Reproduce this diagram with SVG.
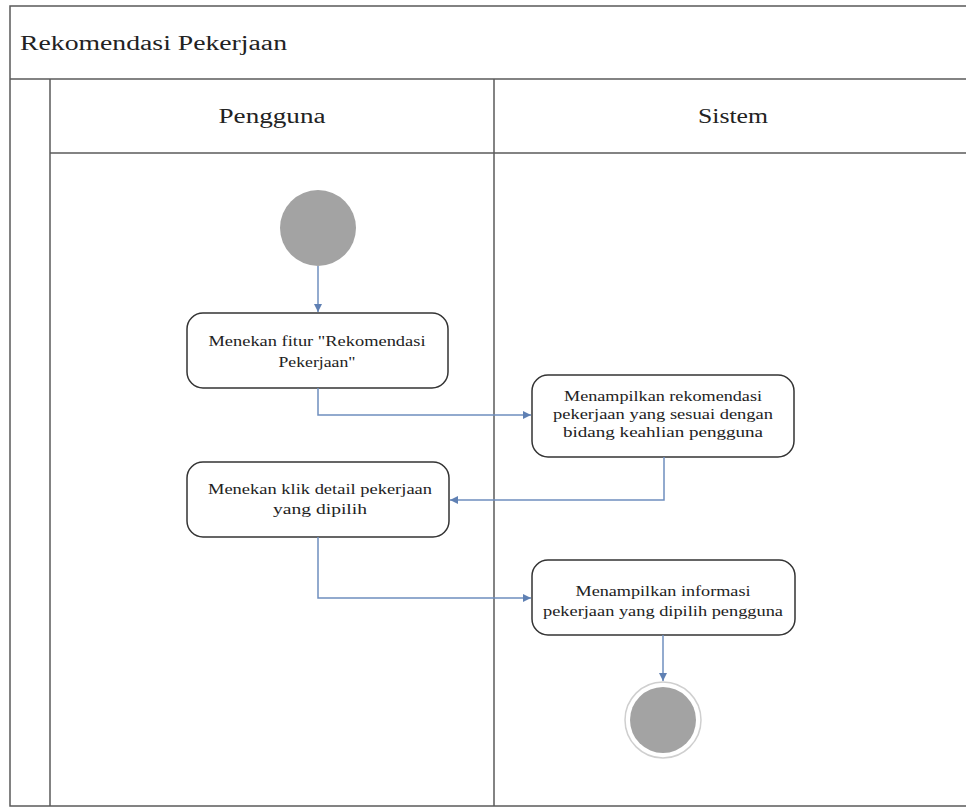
<svg xmlns="http://www.w3.org/2000/svg" width="966" height="807" viewBox="0 0 966 807">
<style>
.frame{fill:none;stroke:#5a5a5a;stroke-width:1.5}
.node rect{fill:#fff;stroke:#333;stroke-width:1.5}
.lbl{font-family:"Liberation Serif","DejaVu Serif","Times New Roman",serif;font-size:14px;fill:#222;text-anchor:middle}
.hdr{font-family:"Liberation Serif","DejaVu Serif","Times New Roman",serif;font-size:20px;fill:#222}
.conn path{fill:none;stroke:#6f8fbf;stroke-width:1.5}
</style>
<defs>
<marker id="arr" markerWidth="10" markerHeight="10" refX="9" refY="5" orient="auto" markerUnits="userSpaceOnUse">
<path d="M1,1 L9,5 L1,9 Z" fill="#5f80b3"/>
</marker>
</defs>
<rect x="0" y="0" width="966" height="807" fill="#fff"/>
<g id="swimlanes">
<rect x="10" y="6" width="970" height="800" class="frame"/>
<line x1="10" y1="79" x2="966" y2="79" class="frame"/>
<line x1="50" y1="79" x2="50" y2="806" class="frame"/>
<line x1="50" y1="153" x2="966" y2="153" class="frame"/>
<line x1="494" y1="79" x2="494" y2="806" class="frame"/>
<text x="20" y="50" class="hdr" textLength="267" lengthAdjust="spacingAndGlyphs">Rekomendasi Pekerjaan</text>
<text x="272" y="123" class="hdr" text-anchor="middle" textLength="107" lengthAdjust="spacingAndGlyphs">Pengguna</text>
<text x="733" y="123" class="hdr" text-anchor="middle" textLength="70" lengthAdjust="spacingAndGlyphs">Sistem</text>
</g>
<g id="start"><circle cx="318" cy="228" r="38" fill="#a3a3a3"/></g>
<g id="n1" class="node">
<rect x="187" y="313" width="261" height="75" rx="16"/>
<text class="lbl" x="317" y="346" textLength="217" lengthAdjust="spacingAndGlyphs">Menekan fitur "Rekomendasi</text>
<text class="lbl" x="317" y="367" textLength="77" lengthAdjust="spacingAndGlyphs">Pekerjaan"</text>
</g>
<g id="n2" class="node">
<rect x="532" y="375" width="262" height="82" rx="16"/>
<text class="lbl" x="663" y="401" textLength="198" lengthAdjust="spacingAndGlyphs">Menampilkan rekomendasi</text>
<text class="lbl" x="663" y="419" textLength="220" lengthAdjust="spacingAndGlyphs">pekerjaan yang sesuai dengan</text>
<text class="lbl" x="663" y="437" textLength="200" lengthAdjust="spacingAndGlyphs">bidang keahlian pengguna</text>
</g>
<g id="n3" class="node">
<rect x="187" y="462" width="262" height="75" rx="16"/>
<text class="lbl" x="320" y="494" textLength="224" lengthAdjust="spacingAndGlyphs">Menekan klik detail pekerjaan</text>
<text class="lbl" x="320" y="514" textLength="94" lengthAdjust="spacingAndGlyphs">yang dipilih</text>
</g>
<g id="n4" class="node">
<rect x="532" y="560" width="263" height="75" rx="16"/>
<text class="lbl" x="663" y="596" textLength="175" lengthAdjust="spacingAndGlyphs">Menampilkan informasi</text>
<text class="lbl" x="663" y="616" textLength="240" lengthAdjust="spacingAndGlyphs">pekerjaan yang dipilih pengguna</text>
</g>
<g id="end">
<circle cx="663" cy="720" r="38" fill="#fff" stroke="#cfcfcf" stroke-width="1.5"/>
<circle cx="663" cy="720" r="33" fill="#a3a3a3"/>
</g>
<g id="connectors" class="conn">
<path d="M318,266 L318,312" marker-end="url(#arr)"/>
<path d="M318,388 L318,415 L531,415" marker-end="url(#arr)"/>
<path d="M664,457 L664,500 L450,500" marker-end="url(#arr)"/>
<path d="M318,537 L318,598 L531,598" marker-end="url(#arr)"/>
<path d="M663,635 L663,681" marker-end="url(#arr)"/>
</g>
</svg>
